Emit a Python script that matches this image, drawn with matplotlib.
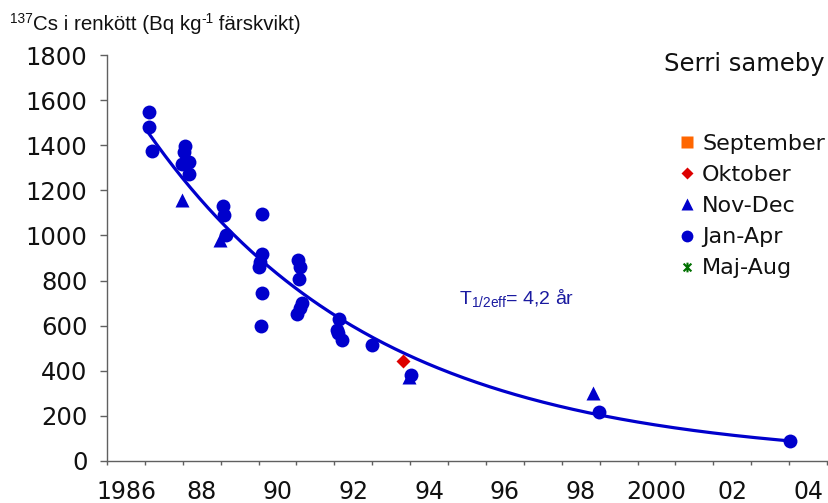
import numpy as np
import matplotlib
matplotlib.use("Agg")
import matplotlib.pyplot as plt
from matplotlib.path import Path
from matplotlib.lines import Line2D

# Cs-137 in reindeer meat, Serri sameby, by sampling period
jan_apr_year = [1987.10, 1987.10, 1987.18, 1988.05, 1988.02, 1987.97, 1988.16, 1988.16,
                1989.05, 1989.10, 1989.13, 1990.10, 1990.10, 1990.05, 1990.02, 1990.10,
                1990.07, 1991.05, 1991.10, 1991.07, 1991.15, 1991.10, 1991.02, 1992.12,
                1992.07, 1992.10, 1992.20, 1992.99, 1994.02, 1998.98, 2004.03]
jan_apr_bq = [1547, 1480, 1373, 1396, 1369, 1316, 1324, 1271,
              1129, 1089, 1000, 1093, 916, 884, 858, 747,
              600, 889, 862, 809, 702, 680, 653, 631,
              582, 569, 538, 516, 382, 218, 89]

nov_dec_year = [1987.97, 1988.97, 1993.96, 1998.83]
nov_dec_bq = [1156, 978, 373, 302]

okt_year = [1993.81]
okt_bq = [444]

sep_year, sep_bq = [], []
maj_aug_year, maj_aug_bq = [], []

# Fitted effective decay
half_life = 4.2
fit_start, fit_end = 1987.08, 2004.03
fit_level = 1458

x_tick_years = list(range(1986, 2006))
x_label_years = list(range(1986, 2005, 2))
x_labels = ["1986", "88", "90", "92", "94", "96", "98", "2000", "02", "04"]
y_ticks = list(range(0, 1801, 200))

BLUE = "#0000CC"
RED = "#DD0000"
ORANGE = "#FF6600"
GREEN = "#007000"
INK = "#111111"

# asterisk marker: vertical bar plus an x
star_path = Path([(0, -1), (0, 1), (-0.8, -0.8), (0.8, 0.8), (-0.8, 0.8), (0.8, -0.8)],
                 [Path.MOVETO, Path.LINETO, Path.MOVETO, Path.LINETO, Path.MOVETO, Path.LINETO])

fig = plt.figure(figsize=(8.29, 5.03), dpi=100)
ax = fig.add_axes([107 / 829, 42 / 503, 720 / 829, 406 / 503])

t = np.linspace(fit_start, fit_end, 300)
ax.plot(t, fit_level * 0.5 ** ((t - fit_start) / half_life), color=BLUE, lw=2.3, zorder=2)

ax.plot(jan_apr_year, jan_apr_bq, "o", color=BLUE, ms=10, mec="none", zorder=3)
ax.plot(nov_dec_year, nov_dec_bq, "^", color=BLUE, ms=10.5, mec="none", zorder=3)
ax.plot(okt_year, okt_bq, "D", color=RED, ms=7, mec="none", zorder=4)
ax.plot(sep_year, sep_bq, "s", color=ORANGE, zorder=4)
ax.plot(maj_aug_year, maj_aug_bq, marker=star_path, ls="none", color=GREEN, zorder=4)

ax.set_xlim(1986, 2005)
ax.set_ylim(0, 1800)

for side in ("top", "right"):
    ax.spines[side].set_visible(False)
for side in ("left", "bottom"):
    ax.spines[side].set_color("#606060")
    ax.spines[side].set_linewidth(1.0)

ax.set_yticks(y_ticks)
ax.tick_params(axis="y", direction="out", length=5, width=1, color="#606060",
               labelsize=17.5, pad=9)
ax.set_xticks(x_tick_years)
ax.set_xticklabels([])
ax.tick_params(axis="x", which="major", direction="out", length=3, width=1, color="#606060")
ax.set_xticks([y + 0.5 for y in x_label_years], minor=True)
ax.set_xticklabels(x_labels, minor=True)
ax.tick_params(axis="x", which="minor", length=0, labelsize=17, pad=14)
for lab in ax.get_yticklabels() + ax.get_xticklabels(minor=True):
    lab.set_family("DejaVu Sans")
    lab.set_color(INK)

# y-axis title built from normal and raised pieces
renderer = fig.canvas.get_renderer()
title_parts = [("137", True), ("Cs i renkött (Bq kg", False), ("-1", True), (" färskvikt)", False)]
x_px, base_px = 10.0, 503 - 30.0
for s, raised in title_parts:
    size = 9.8 if raised else 14.8
    dy = 7 if raised else 0
    txt = fig.text(x_px / 829, (base_px + dy) / 503, s, family="Liberation Sans",
                   fontsize=size, color=INK, va="baseline", ha="left")
    x_px += txt.get_window_extent(renderer).width

fig.text(825 / 829, 1 - 64 / 503, "Serri sameby", family="DejaVu Sans", fontsize=17.5,
         ha="right", va="center", color=INK)

ax.text(1996.8, 692, r"T$_{\mathregular{1/2eff}}$= 4,2 år", family="Liberation Sans",
        fontsize=14, color="#1A1AA0", ha="center", va="baseline")

handles = [
    Line2D([], [], ls="none", marker="s", color=ORANGE, ms=8, mec="none"),
    Line2D([], [], ls="none", marker="D", color=RED, ms=6.5, mec="none"),
    Line2D([], [], ls="none", marker="^", color=BLUE, ms=9, mec="none"),
    Line2D([], [], ls="none", marker="o", color=BLUE, ms=8.5, mec="none"),
    Line2D([], [], ls="none", marker=star_path, color=GREEN, ms=7, mew=1.5),
]
labels = ["September", "Oktober", "Nov-Dec", "Jan-Apr", "Maj-Aug"]
leg = fig.legend(handles, labels, loc="upper left", bbox_to_anchor=(680 / 829, 1 - 134 / 503),
                 frameon=False, handlelength=0.6, handletextpad=0.4, labelspacing=0.5,
                 borderpad=0, borderaxespad=0,
                 prop={"family": "DejaVu Sans", "size": 16})
for txt in leg.get_texts():
    txt.set_color(INK)

fig.savefig("out.png", dpi=100)
